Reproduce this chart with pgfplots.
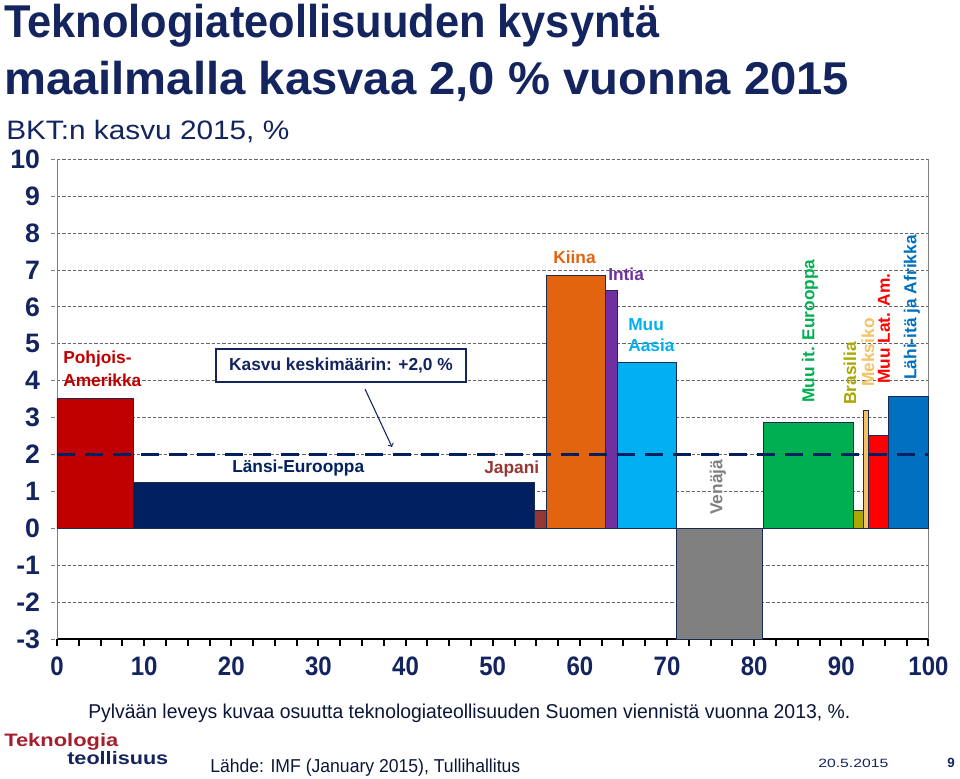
\documentclass[border=0pt]{standalone}
\usepackage{fontspec}
\setmainfont{Liberation Sans}
\usepackage{graphicx}
\usepackage{pgfplots}
\pgfplotsset{compat=1.18}
\newlength\px \setlength\px{0.75pt}
\definecolor{tnavy}{HTML}{13245E}
\definecolor{edge}{HTML}{1B2A55}
\definecolor{cNA}{HTML}{C00000}
\definecolor{cWE}{HTML}{002060}
\definecolor{cJP}{HTML}{953735}
\definecolor{cCN}{HTML}{E3640F}
\definecolor{cIN}{HTML}{7030A0}
\definecolor{cMA}{HTML}{00B0F0}
\definecolor{cRU}{HTML}{808080}
\definecolor{cEE}{HTML}{00B050}
\definecolor{cBR}{HTML}{A8A800}
\definecolor{cMX}{HTML}{F2C263}
\definecolor{cLA}{HTML}{FF0000}
\definecolor{cME}{HTML}{0070C0}
\definecolor{logored}{HTML}{A51E2D}
\newcommand\lab{\fontsize{13}{15}\selectfont\bfseries}
\begin{document}
\begin{tikzpicture}
\begin{axis}[
  scale only axis,
  width=653.6pt, height=360.4pt,
  at={(0,0)}, anchor=south west,
  xmin=0, xmax=100, ymin=-3, ymax=10,
  xtick={0,10,...,100}, minor x tick num=3,
  ytick={-3,-2,...,10},
  axis x line*=bottom, axis y line*=box,
  x axis line style={-, black, line width=1.5pt},
  y axis line style={-, gray, line width=0.6pt},
  xtick pos=bottom, ytick pos=left,
  tick align=outside,
  major tick length=4.5pt, minor tick length=4.5pt,
  x tick style={black, line width=1.5pt},
  y tick style={gray, line width=0.5pt, dashed},
  ymajorgrids,
  major grid style={gray!80!black, line width=0.5pt, dash pattern=on 2.5pt off 1.5pt},
  /pgf/number format/assume math mode=true,
  xticklabel style={font=\fontsize{20}{22}\selectfont\bfseries, text=tnavy, inner sep=0pt, anchor=north, yshift=-8pt},
  yticklabel style={font=\fontsize{20}{22}\selectfont\bfseries, text=tnavy, inner sep=0pt, anchor=east, xshift=-8pt},
  xticklabel={\scalebox{0.9}[1]{\pgfmathprintnumber{\tick}}},
  clip=false,
]
\addplot[fill=cNA, draw=edge, line width=0.6pt] coordinates {(0,0) (0,3.51) (8.77,3.51) (8.77,0) (0,0)};
\addplot[fill=cWE, draw=edge, line width=0.6pt] coordinates {(8.77,0) (8.77,1.25) (54.8,1.25) (54.8,0) (8.77,0)};
\addplot[fill=cJP, draw=edge, line width=0.6pt] coordinates {(54.8,0) (54.8,0.48) (56.2,0.48) (56.2,0) (54.8,0)};
\addplot[fill=cCN, draw=edge, line width=0.6pt] coordinates {(56.2,0) (56.2,6.86) (62.9,6.86) (62.9,0) (56.2,0)};
\addplot[fill=cIN, draw=edge, line width=0.6pt] coordinates {(62.9,0) (62.9,6.44) (64.3,6.44) (64.3,0) (62.9,0)};
\addplot[fill=cMA, draw=edge, line width=0.6pt] coordinates {(64.3,0) (64.3,4.50) (71.1,4.50) (71.1,0) (64.3,0)};
\addplot[fill=cRU, draw=edge, line width=0.6pt] coordinates {(71.1,0) (71.1,-3.0) (80.9,-3.0) (80.9,0) (71.1,0)};
\addplot[fill=cEE, draw=edge, line width=0.6pt] coordinates {(81.1,0) (81.1,2.88) (91.4,2.88) (91.4,0) (81.1,0)};
\addplot[fill=cBR, draw=edge, line width=0.6pt] coordinates {(91.4,0) (91.4,0.48) (92.5,0.48) (92.5,0) (91.4,0)};
\addplot[fill=cMX, draw=edge, line width=0.6pt] coordinates {(92.5,0) (92.5,3.19) (93.1,3.19) (93.1,0) (92.5,0)};
\addplot[fill=cLA, draw=edge, line width=0.6pt] coordinates {(93.1,0) (93.1,2.51) (95.4,2.51) (95.4,0) (93.1,0)};
\addplot[fill=cME, draw=edge, line width=0.6pt] coordinates {(95.4,0) (95.4,3.58) (100,3.58) (100,0) (95.4,0)};
\addplot[cWE, line width=2.4pt, dash pattern=on 13.5pt off 7.5pt] coordinates {(0,2.0) (100,2.0)};
\end{axis}
\begin{scope}[x=0.75pt, y=-0.75pt, shift={(-57,-639.5)}]
\node[anchor=base west, inner sep=0, text=tnavy] at (4,38) {\resizebox{655\px}{\height}{\fontsize{34.5}{40}\selectfont\bfseries Teknologiateollisuuden kysyntä}};
\node[anchor=base west, inner sep=0, text=tnavy] at (4,95) {\resizebox{845\px}{\height}{\fontsize{34.5}{40}\selectfont\bfseries maailmalla kasvaa 2,0 \% vuonna 2015}};
\node[anchor=base west, inner sep=0, text=tnavy] at (6,140) {\resizebox{283\px}{\height}{\fontsize{20}{24}\selectfont BKT:n kasvu 2015, \%}};
\node[anchor=base west, inner sep=0, text=tnavy!60!black] at (88,718) {\resizebox{762\px}{\height}{\fontsize{15}{18}\selectfont Pylvään leveys kuvaa osuutta teknologiateollisuuden Suomen viennistä vuonna 2013, \%.}};
\node[anchor=base west, inner sep=0, text=tnavy!60!black] at (210,772) {\resizebox{310\px}{\height}{\fontsize{14}{16}\selectfont Lähde: IMF (January 2015), Tullihallitus}};
\node[anchor=base west, inner sep=0, text=tnavy] at (818,767) {\resizebox{70\px}{\height}{\fontsize{9}{11}\selectfont 20.5.2015}};
\node[anchor=base west, inner sep=0, text=tnavy] at (947,767) {\fontsize{10}{12}\selectfont\bfseries 9};
\node[anchor=base west, inner sep=0, text=logored] at (4,746) {\resizebox{114\px}{\height}{\fontsize{13.5}{15}\selectfont\bfseries Teknologia}};
\node[anchor=base west, inner sep=0, text=tnavy] at (67,764) {\resizebox{101\px}{\height}{\fontsize{13.5}{15}\selectfont\bfseries teollisuus}};
% chart labels
\node[anchor=base west, inner sep=0, text=cNA] at (63,364) {\lab Pohjois-};
\node[anchor=base west, inner sep=0, text=cNA] at (63,387) {\lab Amerikka};
\node[draw=tnavy, line width=0.8pt, fill=white, text=tnavy, minimum width=250\px, minimum height=33\px, inner sep=0] at (341,365.5) {\lab Kasvu keskimäärin: +2,0 \%};
\draw[->, tnavy, line width=0.8pt] (365,389) -- (392,447);
\node[anchor=base west, inner sep=0, text=cWE] at (232,473) {\lab Länsi-Eurooppa};
\node[anchor=base west, inner sep=0, text=cJP] at (484,474) {\lab Japani};
\node[anchor=base west, inner sep=0, text=cCN] at (553,264) {\lab Kiina};
\node[anchor=base west, inner sep=0, text=cIN] at (608,281) {\lab Intia};
\node[anchor=base west, inner sep=0, text=cMA] at (628,331) {\lab Muu};
\node[anchor=base west, inner sep=0, text=cMA] at (628,352) {\lab Aasia};
\node[rotate=90, anchor=west, inner sep=0, text=cRU] at (718,515) {\lab Venäjä};
\node[rotate=90, anchor=west, inner sep=0, text=cEE] at (810,403) {\lab Muu it. Eurooppa};
\node[rotate=90, anchor=west, inner sep=0, text=cBR] at (850,405) {\lab Brasilia};
\node[rotate=90, anchor=west, inner sep=0, text=cMX] at (868,387) {\lab Meksiko};
\node[rotate=90, anchor=west, inner sep=0, text=cLA] at (884,384) {\lab Muu Lat. Am.};
\node[rotate=90, anchor=west, inner sep=0, text=cME] at (912,380) {\lab Lähi-itä ja Afrikka};
\pgfresetboundingbox
\path[use as bounding box] (0,0) rectangle (960,778);
\end{scope}
\end{tikzpicture}
\end{document}
